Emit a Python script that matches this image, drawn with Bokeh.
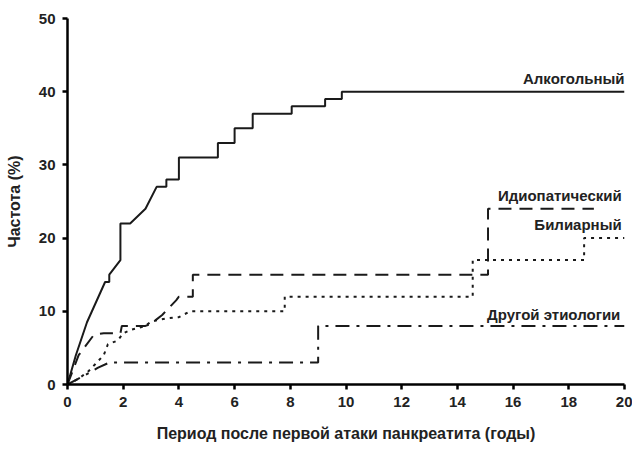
from bokeh.plotting import figure
from bokeh.models import Range1d, FixedTicker
from bokeh.core.properties import value
from bokeh.embed import file_html
from bokeh.resources import INLINE

# ---- data (years, %) ----
alc_x = [0, 0.3, 0.7, 1.35, 1.5, 1.5, 1.9, 1.9, 2.25, 2.8, 3.2, 3.55, 3.55, 4.0, 4.0, 5.4, 5.4,
         6.0, 6.0, 6.65, 6.65, 8.05, 8.05, 9.25, 9.25, 9.85, 9.85, 20]
alc_y = [0, 4, 8.5, 14, 14, 15, 17, 22, 22, 24, 27, 27, 28, 28, 31, 31, 33,
         33, 35, 35, 37, 37, 38, 38, 39, 39, 40, 40]

idio_x = [0, 0.4, 0.95, 1.3, 1.9, 1.95, 2.8, 3.0, 3.4, 3.9, 4.0, 4.5, 4.5, 15.1, 15.1, 18.9]
idio_y = [0, 4, 6.8, 7, 7, 8, 8, 8.3, 9.5, 11.5, 12, 12, 15, 15, 24, 24]

bil_x = [0, 0.4, 0.75, 1.0, 1.3, 1.45, 1.8, 2.0, 2.3, 2.8, 3.0, 3.5, 4.0, 4.4, 7.8, 7.8,
         14.55, 14.55, 18.55, 18.55, 20]
bil_y = [0, 0.8, 1.8, 2.8, 4, 5.5, 6, 7, 7.5, 8, 8.6, 9, 9.2, 10, 10, 12,
         12, 17, 17, 20, 20]

oth_x = [0, 0.5, 1.1, 1.5, 9.0, 9.0, 20]
oth_y = [0, 1, 2.3, 3, 3, 8, 8]

label_names = ["Алкогольный", "Идиопатический", "Билиарный", "Другой этиологии"]
label_x = [20.0, 19.9, 19.9, 19.85]
label_y = [41.8, 25.8, 21.8, 9.6]

x_ticks = list(range(0, 21, 2))
y_ticks = list(range(0, 51, 10))

FONT = "Liberation Sans"
INK = "#1a1a1a"

p = figure(width=632, height=444, x_range=Range1d(0, 20), y_range=Range1d(0, 50),
           output_backend="svg", toolbar_location=None,
           min_border_left=67, min_border_right=8, min_border_top=18, min_border_bottom=59)
p.outline_line_color = None
p.grid.visible = False
p.background_fill_color = "white"

p.line(alc_x, alc_y, line_color=INK, line_width=2)
p.line(idio_x, idio_y, line_color=INK, line_width=2, line_dash="13 8")
p.line(bil_x, bil_y, line_color=INK, line_width=2, line_dash="3 5")
p.line(oth_x, oth_y, line_color=INK, line_width=2, line_dash="14 7 3 7")

p.text(x=label_x, y=label_y, text=label_names, text_align="right", text_baseline="middle",
       text_font=value(FONT), text_font_style="bold", text_font_size="15px", text_color="#222222")

p.xaxis.ticker = FixedTicker(ticks=x_ticks)
p.yaxis.ticker = FixedTicker(ticks=y_ticks)
for ax in (p.xaxis[0], p.yaxis[0]):
    ax.axis_line_width = 2.5
    ax.axis_line_color = "black"
    ax.major_tick_line_width = 2.5
    ax.major_tick_line_color = "black"
    ax.major_tick_out = 5
    ax.major_tick_in = 0
    ax.minor_tick_out = 0
    ax.minor_tick_in = 0
    ax.major_label_text_font = FONT
    ax.major_label_text_font_style = "bold"
    ax.major_label_text_font_size = "15px"
    ax.major_label_text_color = "#222222"
    ax.major_label_standoff = 7
    ax.axis_label_text_font = FONT
    ax.axis_label_text_font_style = "bold"
    ax.axis_label_text_font_size = "16px"
    ax.axis_label_text_color = "#222222"

p.xaxis.axis_label = "Период после первой атаки панкреатита (годы)"
p.yaxis.axis_label = "Частота (%)"
p.xaxis.axis_label_standoff = 15
p.yaxis.axis_label_standoff = 13

open("out.html", "w").write(file_html(p, INLINE))
